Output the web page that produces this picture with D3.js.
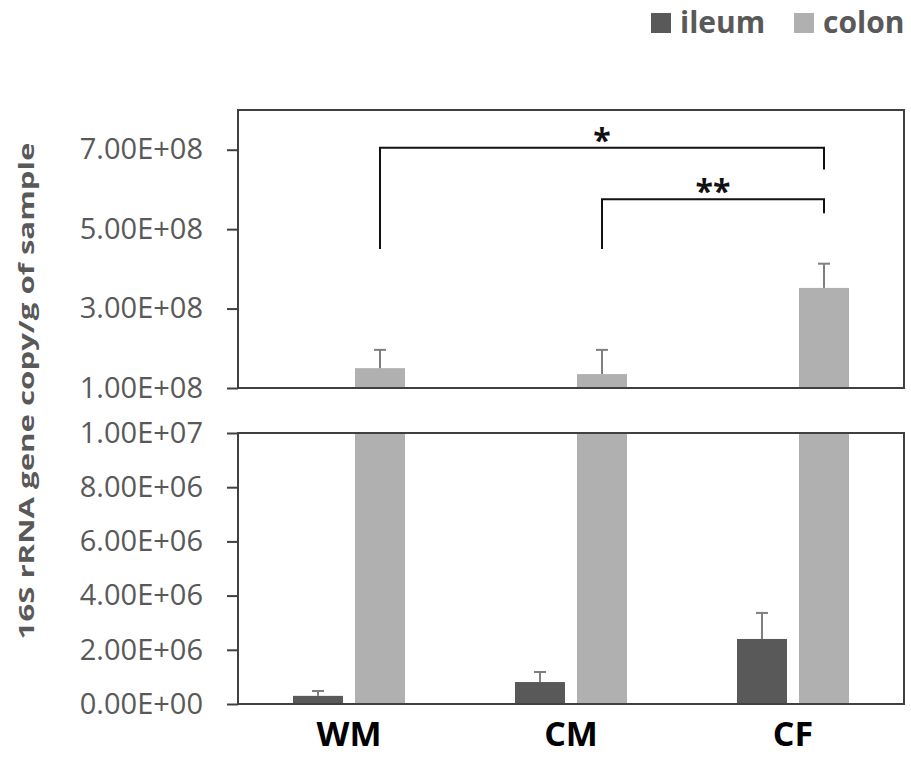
<!DOCTYPE html>
<html>
<head>
<meta charset="utf-8">
<script src="https://cdn.jsdelivr.net/npm/d3@7"></script>
<style>
  body { margin: 0; background: #fff; }
  .tick-label { font-family: "Open Sans", sans-serif; font-size: 29px; fill: #595959; }
  .bold { font-family: "Open Sans", sans-serif; font-weight: bold; }
</style>
</head>
<body>
<script>
// data
var groups = ["WM", "CM", "CF"];
var series = ["ileum", "colon"];
var ileum = [3.0e5, 8.1e5, 2.40e6];
var ileumErr = [1.8e5, 3.7e5, 9.6e5];
var colon = [1.50e8, 1.35e8, 3.52e8];
var colonErr = [0.46e8, 0.61e8, 0.61e8];
var topTicks = [1e8, 3e8, 5e8, 7e8];
var bottomTicks = [0, 2e6, 4e6, 6e6, 8e6, 1e7];
var colors = { ileum: "#595959", colon: "#b0b0b0" };

// significance brackets (colon bars), heights in top-panel units
var brackets = [
  { from: "WM", to: "CF", top: 7.05e8, leftEnd: 4.5e8, rightEnd: 6.5e8, label: "*" },
  { from: "CM", to: "CF", top: 5.75e8, leftEnd: 4.5e8, rightEnd: 5.4e8, label: "**" }
];

var width = 911, height = 757;
var left = 238, right = 904;

var svg = d3.select("body").append("svg")
    .attr("width", width)
    .attr("height", height);

var x0 = d3.scaleBand().domain(groups).range([left, right]);
var x1 = d3.scaleBand().domain(series).range([-56, 56]).paddingInner(0.194);

var yTop = d3.scaleLinear().domain([1e8, 8e8]).range([388, 110]).clamp(true);
var yBot = d3.scaleLinear().domain([0, 1e7]).range([704, 433]).clamp(true);

var rows = groups.map(function(g, i) {
    return [
        { group: g, key: "ileum", value: ileum[i], err: ileumErr[i] },
        { group: g, key: "colon", value: colon[i], err: colonErr[i] }
    ];
});
var flat = [].concat.apply([], rows);

function fmt(v) {
    var s = v.toExponential(2).toUpperCase();
    // 1.00E+8 -> 1.00E+08
    return s.replace(/E([+-])(\d)$/, "E$10$2");
}

function drawPanel(y, ticks, showErrFor) {
    var g = svg.append("g");
    var y0 = y.range()[0], y1 = y.range()[1];

    g.selectAll("rect.bar")
        .data(flat)
        .enter()
        .append("rect")
        .attr("class", "bar")
        .attr("x", function(d) { return x0(d.group) + x0.bandwidth() / 2 + x1(d.key); })
        .attr("width", x1.bandwidth())
        .attr("y", function(d) { return y(d.value); })
        .attr("height", function(d) { return y0 - y(d.value); })
        .attr("fill", function(d) { return colors[d.key]; });

    var errs = flat.filter(function(d) { return d.key === showErrFor; });
    var cx = function(d) { return x0(d.group) + x0.bandwidth() / 2 + x1(d.key) + x1.bandwidth() / 2; };
    g.selectAll("line.err")
        .data(errs)
        .enter()
        .append("line")
        .attr("x1", cx).attr("x2", cx)
        .attr("y1", function(d) { return y(d.value); })
        .attr("y2", function(d) { return y(d.value + d.err); })
        .attr("stroke", "#7f7f7f")
        .attr("stroke-width", 2);
    g.selectAll("line.cap")
        .data(errs)
        .enter()
        .append("line")
        .attr("x1", function(d) { return cx(d) - 6; })
        .attr("x2", function(d) { return cx(d) + 6; })
        .attr("y1", function(d) { return y(d.value + d.err); })
        .attr("y2", function(d) { return y(d.value + d.err); })
        .attr("stroke", "#7f7f7f")
        .attr("stroke-width", 2);

    // frame
    g.append("rect")
        .attr("x", left).attr("y", y1)
        .attr("width", right - left).attr("height", y0 - y1)
        .attr("fill", "none")
        .attr("stroke", "#404040")
        .attr("stroke-width", 2);

    var axis = d3.axisLeft(y).tickValues(ticks).tickSize(11).tickPadding(24).tickFormat(fmt);
    var ax = g.append("g").attr("transform", "translate(" + left + ",0)").call(axis);
    ax.select(".domain").remove();
    ax.selectAll(".tick line").attr("stroke", "#404040").attr("stroke-width", 2);
    ax.selectAll(".tick text").attr("class", "tick-label").attr("fill", null);
}

drawPanel(yTop, topTicks, "colon");
drawPanel(yBot, bottomTicks, "ileum");

// brackets
var colonX = function(g) { return x0(g) + x0.bandwidth() / 2 + x1("colon") + x1.bandwidth() / 2; };
brackets.forEach(function(b) {
    var pts = [
        [colonX(b.from), yTop(b.leftEnd)],
        [colonX(b.from), yTop(b.top)],
        [colonX(b.to), yTop(b.top)],
        [colonX(b.to), yTop(b.rightEnd)]
    ];
    svg.append("path")
        .attr("d", d3.line()(pts))
        .attr("fill", "none")
        .attr("stroke", "#111")
        .attr("stroke-width", 2);
    svg.append("text")
        .attr("class", "bold")
        .attr("x", (colonX(b.from) + colonX(b.to)) / 2)
        .attr("y", yTop(b.top) + 4)
        .attr("text-anchor", "middle")
        .attr("font-size", 32)
        .attr("fill", "#111")
        .text(b.label);
});

// category labels
svg.selectAll("text.cat")
    .data(groups)
    .enter()
    .append("text")
    .attr("class", "bold")
    .attr("x", function(d) { return x0(d) + x0.bandwidth() / 2; })
    .attr("y", 746)
    .attr("text-anchor", "middle")
    .attr("font-size", 34)
    .attr("fill", "#000")
    .text(function(d) { return d; });

// y title, stretched along its length like the original
var title = svg.append("text")
    .attr("class", "bold")
    .attr("text-anchor", "middle")
    .attr("font-size", 22)
    .attr("fill", "#595959")
    .text("16S rRNA gene copy/g of sample");
var stretch = 497 / title.node().getComputedTextLength();
title.attr("transform", "translate(34,391) rotate(-90) scale(" + stretch + ",1)");

// legend
var legX = [651, 794];
var leg = svg.selectAll("g.leg")
    .data(series)
    .enter()
    .append("g")
    .attr("transform", function(d, i) { return "translate(" + legX[i] + ",0)"; });
leg.append("rect")
    .attr("x", 0).attr("y", 13)
    .attr("width", 20).attr("height", 20)
    .attr("fill", function(d) { return colors[d]; });
leg.append("text")
    .attr("class", "bold")
    .attr("x", 29).attr("y", 33)
    .attr("font-size", 30)
    .attr("fill", "#595959")
    .text(function(d) { return d; });
</script>
</body>
</html>
